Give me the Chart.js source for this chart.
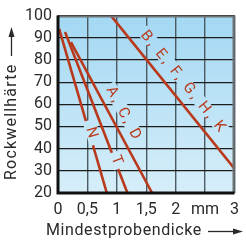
<!DOCTYPE html>
<html>
<head>
<meta charset="utf-8">
<script src="https://cdn.jsdelivr.net/npm/chart.js@4.4.1/dist/chart.umd.min.js"></script>
<style>
  html, body { margin: 0; padding: 0; background: #fff; }
  #c { display: block; }
</style>
</head>
<body>
<canvas id="c" width="246" height="246"></canvas>
<script>
"use strict"

// minimum sample thickness (mm) vs Rockwell hardness, one straight line per scale group
const lineNames = ['N', 'T', 'A, C, D', 'B, E, F, G, H, K'];
const thicknessStart = [0.02, 0.12, 0.22, 0.9];
const hardnessStart = [94, 92.6, 88, 100];
const thicknessEnd = [0.83, 1.18, 1.6, 3];
const hardnessEnd = [20, 20, 20, 31];

const xTickLabels = ['0', '0,5', '1', '1,5', '2', 'mm', '3'];
const yTickLabels = ['20', '30', '40', '50', '60', '70', '80', '90', '100'];

const xTitle = 'Mindestprobendicke';
const yTitle = 'Rockwellhärte';

// label placement along each line (hardness where it sits, offset to the upper right in px, box padding)
const labelAt = [47, 34.5, 53.4, 66.2];
const labelOffset = [3, 2.5, 13.5, 15.5];
const labelPad = [6, 3, 2, 2];

const RED = '#b9391d';
const FONT = 'Roboto, "Liberation Sans", sans-serif';

let datasets = [];
for (let i = 0; i < lineNames.length; i++) {
    datasets.push({
        label: lineNames[i],
        data: [
            { x: thicknessStart[i], y: hardnessStart[i] },
            { x: thicknessEnd[i], y: hardnessEnd[i] }
        ],
        showLine: true,
        borderColor: RED,
        borderWidth: 2.6,
        pointRadius: 0,
        fill: false
    });
}

let bgPlugin = {
    id: 'bg',
    beforeDraw(chart) {
        const ctx = chart.ctx;
        const a = chart.chartArea;
        const g = ctx.createLinearGradient(0, a.top, 0, a.bottom);
        g.addColorStop(0, '#a3d8f3');
        g.addColorStop(1, '#d6eef9');
        chart.$grad = g;
        ctx.save();
        ctx.fillStyle = g;
        ctx.fillRect(a.left, a.top, a.right - a.left, a.bottom - a.top);
        ctx.restore();
    }
};

function drawLineLabel(chart, i) {
    const ctx = chart.ctx;
    const xs = chart.scales.x, ys = chart.scales.y;
    const x0 = xs.getPixelForValue(thicknessStart[i]), y0 = ys.getPixelForValue(hardnessStart[i]);
    const x1 = xs.getPixelForValue(thicknessEnd[i]), y1 = ys.getPixelForValue(hardnessEnd[i]);
    const ang = Math.atan2(y1 - y0, x1 - x0);
    const t = (labelAt[i] - hardnessStart[i]) / (hardnessEnd[i] - hardnessStart[i]);
    const cx = x0 + t * (x1 - x0) + labelOffset[i] * Math.sin(ang);
    const cy = y0 + t * (y1 - y0) - labelOffset[i] * Math.cos(ang);

    ctx.save();
    ctx.font = '15px ' + FONT;
    ctx.letterSpacing = '2.5px';
    const w = ctx.measureText(lineNames[i]).width + 2 * labelPad[i];
    const h = 13;
    const ux = Math.cos(ang), uy = Math.sin(ang);
    const vx = -uy, vy = ux;
    // box in the background colour, it hides grid (and the line for N / T)
    ctx.beginPath();
    ctx.moveTo(cx - ux * w / 2 - vx * h / 2, cy - uy * w / 2 - vy * h / 2);
    ctx.lineTo(cx + ux * w / 2 - vx * h / 2, cy + uy * w / 2 - vy * h / 2);
    ctx.lineTo(cx + ux * w / 2 + vx * h / 2, cy + uy * w / 2 + vy * h / 2);
    ctx.lineTo(cx - ux * w / 2 + vx * h / 2, cy - uy * w / 2 + vy * h / 2);
    ctx.closePath();
    ctx.fillStyle = chart.$grad;
    ctx.fill();

    ctx.translate(cx, cy);
    ctx.rotate(ang);
    ctx.fillStyle = RED;
    ctx.textAlign = 'center';
    ctx.textBaseline = 'middle';
    ctx.fillText(lineNames[i], 1.2, 1);
    ctx.restore();
}

let decoPlugin = {
    id: 'deco',
    afterDatasetsDraw(chart) {
        for (let i = 0; i < lineNames.length; i++)
            drawLineLabel(chart, i);
    },
    afterDraw(chart) {
        const ctx = chart.ctx;
        const a = chart.chartArea;
        ctx.save();
        // frame: top/right grey, left/bottom black
        ctx.strokeStyle = '#6f7476';
        ctx.lineWidth = 2;
        ctx.beginPath();
        ctx.moveTo(a.left, a.top + 1);
        ctx.lineTo(a.right - 1, a.top + 1);
        ctx.lineTo(a.right - 1, a.bottom);
        ctx.stroke();
        ctx.strokeStyle = '#111';
        ctx.lineWidth = 3;
        ctx.beginPath();
        ctx.moveTo(a.left, a.top);
        ctx.lineTo(a.left, a.bottom);
        ctx.lineTo(a.right, a.bottom);
        ctx.stroke();

        // axis titles with arrows
        ctx.fillStyle = '#2a2a2a';
        ctx.strokeStyle = '#2a2a2a';
        ctx.font = '16px ' + FONT;
        ctx.letterSpacing = '0.6px';
        ctx.textBaseline = 'alphabetic';
        ctx.textAlign = 'left';
        ctx.fillText(xTitle, 46, 235);
        drawArrow(ctx, 208, 231.5, 243, 231.5);

        ctx.save();
        ctx.translate(16, 180);
        ctx.rotate(-Math.PI / 2);
        ctx.letterSpacing = '1.2px';
        ctx.fillText(yTitle, 0, 0);
        ctx.restore();
        drawArrow(ctx, 11.5, 56, 11.5, 27);
        ctx.restore();
    }
};

function drawArrow(ctx, xa, ya, xb, yb) {
    const ang = Math.atan2(yb - ya, xb - xa);
    const len = 10, half = 3;
    const bx = xb - len * Math.cos(ang), by = yb - len * Math.sin(ang);
    ctx.lineWidth = 1.3;
    ctx.beginPath();
    ctx.moveTo(xa, ya);
    ctx.lineTo(bx, by);
    ctx.stroke();
    ctx.beginPath();
    ctx.moveTo(xb, yb);
    ctx.lineTo(bx - half * Math.sin(ang), by + half * Math.cos(ang));
    ctx.lineTo(bx + half * Math.sin(ang), by - half * Math.cos(ang));
    ctx.closePath();
    ctx.fill();
}

new Chart(document.getElementById('c'), {
    type: 'scatter',
    data: { datasets: datasets },
    options: {
        responsive: false,
        animation: false,
        devicePixelRatio: 1,
        layout: { padding: { top: 15, right: 10, left: 0, bottom: 0 } },
        plugins: {
            legend: { display: false },
            tooltip: { enabled: false }
        },
        scales: {
            x: {
                type: 'linear',
                min: 0,
                max: 3,
                afterFit: s => { s.height = 53; },
                afterBuildTicks: s => {
                    s.ticks = xTickLabels.map((lab, k) => ({ value: k * 0.5 }));
                },
                ticks: {
                    autoSkip: false,
                    maxRotation: 0,
                    padding: 7,
                    color: '#2a2a2a',
                    font: { family: FONT, size: 16 },
                    callback: (v, k) => xTickLabels[k]
                },
                grid: { color: '#4c5a62', lineWidth: 1.4, drawTicks: false },
                border: { display: false }
            },
            y: {
                type: 'linear',
                min: 20,
                max: 100,
                afterFit: s => { s.width = 58; },
                afterBuildTicks: s => {
                    s.ticks = yTickLabels.map(lab => ({ value: Number(lab) }));
                },
                ticks: {
                    autoSkip: false,
                    padding: 6,
                    color: '#2a2a2a',
                    font: { family: FONT, size: 16 },
                    callback: (v, k) => yTickLabels[k]
                },
                grid: { color: '#1c1c1c', lineWidth: 1.2, drawTicks: false },
                border: { display: false }
            }
        }
    },
    plugins: [bgPlugin, decoPlugin]
});
</script>
</body>
</html>
